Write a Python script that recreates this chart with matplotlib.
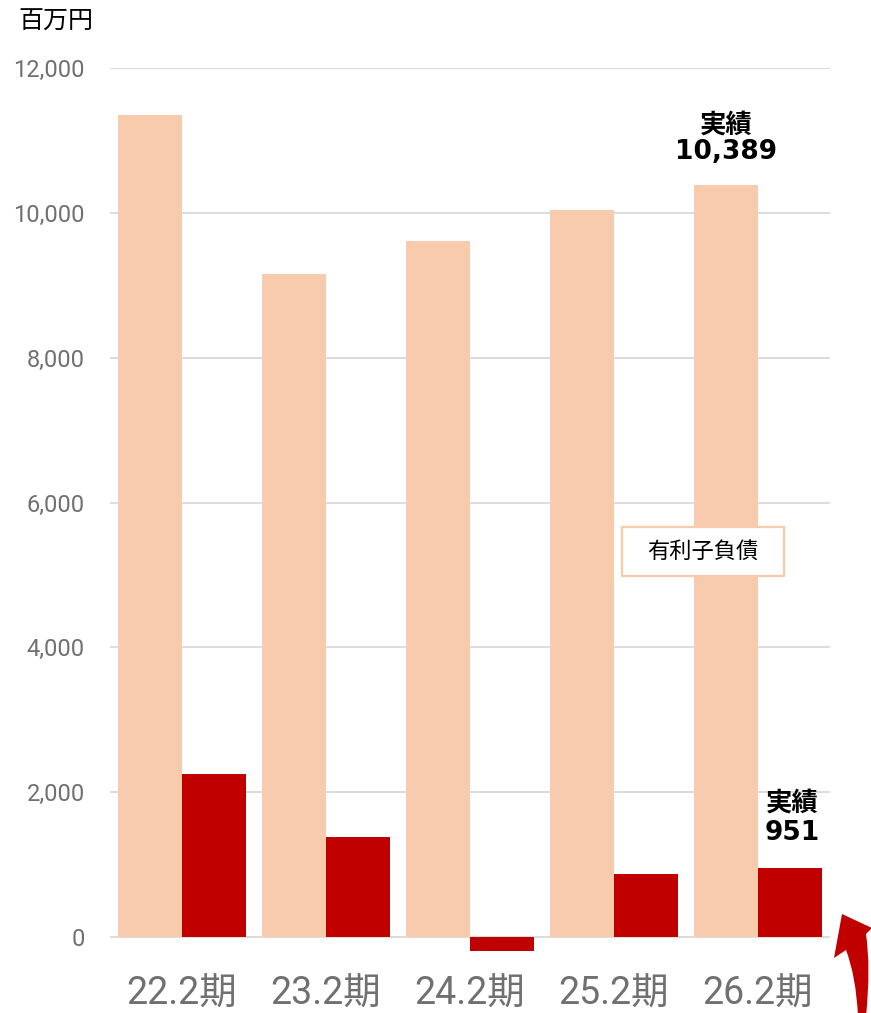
import matplotlib
matplotlib.use("Agg")
import matplotlib.pyplot as plt
from matplotlib.patches import PathPatch, Rectangle
from matplotlib.path import Path
import numpy as np

plt.rcParams['font.family'] = ['Noto Sans CJK JP', 'DejaVu Sans']

categories = ["22.2期", "23.2期", "24.2期", "25.2期", "26.2期"]
debt = [11350, 9150, 9610, 10040, 10389]
net_debt = [2250, 1380, -190, 870, 951]
yticks = [0, 2000, 4000, 6000, 8000, 10000, 12000]
ytick_labels = ["0", "2,000", "4,000", "6,000", "8,000", "10,000", "12,000"]
legend_label = "有利子負債"
unit_label = "百万円"

LIGHT = "#F8CBAD"
RED = "#C00000"
GRID = "#D9D9D9"
TICK = "#707070"
LIGHTFONT = ['Roboto', 'Noto Sans CJK JP', 'DejaVu Sans']
BOLDFONT = ['DejaVu Sans', 'Noto Sans CJK JP']

W, H = 871, 1013
fig = plt.figure(figsize=(W / 100, H / 100), dpi=100)
left, right, top = 110, 830, 68
ymin, ymax = -300, 12000
ppu = (937 - 68) / 12000
bottom_px = 937 - ymin * ppu
ax = fig.add_axes([left / W, 1 - bottom_px / H, (right - left) / W, (bottom_px - top) / H])

x = np.arange(len(categories))
bw = 64 / 144
ax.bar(x - bw / 2, debt, width=bw, color=LIGHT, zorder=2)
ax.bar(x + bw / 2, net_debt, width=bw, color=RED, zorder=2)

ax.set_xlim(-0.5, len(categories) - 0.5)
ax.set_ylim(ymin, ymax)
ax.set_yticks(yticks)
ax.set_yticklabels(ytick_labels, fontsize=17, color=TICK, fontweight='normal', family=LIGHTFONT)
for yv in yticks:
    ax.axhline(yv, color=GRID, lw=1.3, zorder=1)
ax.set_xticks(x)
ax.set_xticklabels(categories, fontsize=27, color=TICK, fontweight='normal', family=LIGHTFONT)
ax.tick_params(axis='x', length=0, pad=12)
ax.tick_params(axis='y', length=0, pad=18)
for s in ax.spines.values():
    s.set_visible(False)

# annotations
ax.annotate("実績\n" + f"{debt[-1]:,}", xy=(x[-1] - bw / 2, debt[-1]),
            xytext=(0, 20), textcoords='offset pixels', ha='center', va='bottom',
            fontsize=19, fontweight='bold', linespacing=1.0, family=BOLDFONT)
ax.annotate("実績\n" + f"{net_debt[-1]:,}", xy=(x[-1] + bw / 2, net_debt[-1]),
            xytext=(2, 22), textcoords='offset pixels', ha='center', va='bottom',
            fontsize=19, fontweight='bold', linespacing=1.2, family=BOLDFONT)

# legend-like box
fig.patches.append(Rectangle((622 / W, 1 - 576 / H), 162 / W, 49 / H, transform=fig.transFigure,
                             fc='white', ec=LIGHT, lw=1.6, zorder=5))
fig.text(703 / W, 1 - 551 / H, legend_label, ha='center', va='center', fontsize=16, zorder=6)

fig.text(18 / W, 1 - 22 / H, unit_label, ha='left', va='center', fontsize=18)

# curved arrow at bottom right (decoration), pixel coords -> figure fraction
pts = [(842, 914), (872, 928), (866, 934), (871, 968), (866, 1016),
       (858, 1016), (856, 976), (846, 950), (834, 958), (842, 914)]
codes = [Path.MOVETO, Path.LINETO, Path.LINETO, Path.CURVE3, Path.CURVE3,
         Path.LINETO, Path.CURVE3, Path.CURVE3, Path.LINETO, Path.CLOSEPOLY]
verts = [(px / W, 1 - py / H) for px, py in pts]
fig.patches.append(PathPatch(Path(verts, codes), transform=fig.transFigure,
                             fc=RED, ec='none'))

fig.savefig("out.png", dpi=100)
